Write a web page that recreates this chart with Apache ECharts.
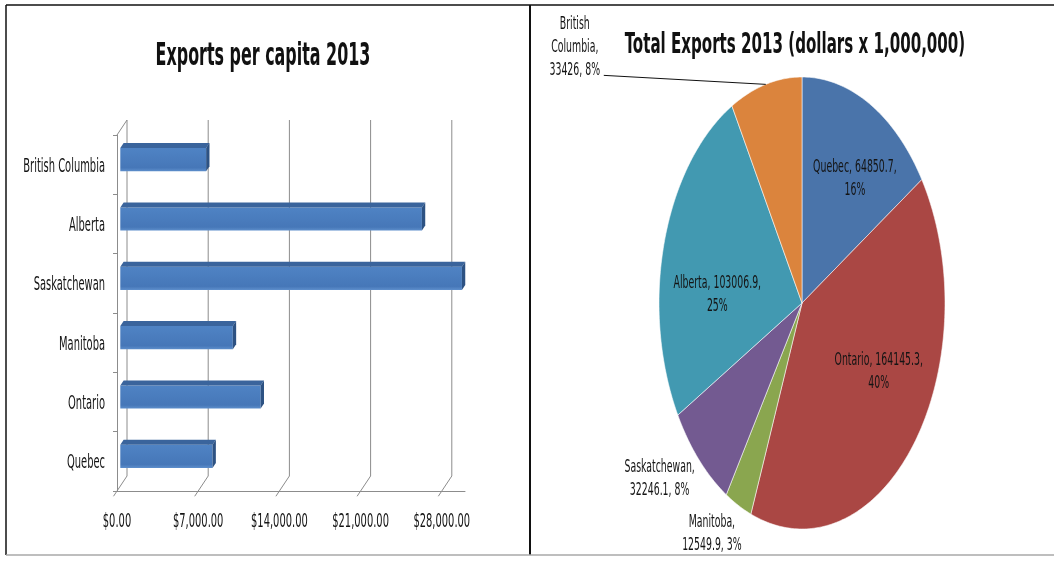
<!DOCTYPE html>
<html>
<head>
<meta charset="utf-8">
<script src="https://cdn.jsdelivr.net/npm/echarts@6/dist/echarts.min.js"></script>
<style>
  html, body { margin: 0; padding: 0; background: #ffffff; }
  #chart { width: 1054px; height: 561px; }
</style>
</head>
<body>
<div id="chart"></div>
<script>
// ---- Exports per capita, 2013 (left panel) ----
const provinces = ['British Columbia', 'Alberta', 'Saskatchewan', 'Manitoba', 'Ontario', 'Quebec'];
const perCapita = [7400, 26000, 29450, 9700, 12100, 7950];
const perCapitaTicks = [0, 7000, 14000, 21000, 28000];

// ---- Total exports 2013, millions of dollars (right panel), clockwise from 12 o'clock ----
const pieNames = ['Quebec', 'Ontario', 'Manitoba', 'Saskatchewan', 'Alberta', 'British Columbia'];
const pieValues = [64850.7, 164145.3, 12549.9, 32246.1, 103006.9, 33426];
const pieColors = ['#4A74AA', '#AA4744', '#8AA64F', '#735A91', '#4299B1', '#DB843D'];

// label placement: radius factor along the slice's mid angle plus a pixel nudge
const pieLabelLayout = [
  { k: 0.6, dx: 12, dy: -5, mode: 'inside' },
  { k: 0.6, dx: 10, dy: -16, mode: 'inside' },
  { k: 1.1, dx: -20, dy: 8, mode: 'outside' },
  { k: 1.1, dx: -29, dy: 4, mode: 'outside' },
  { k: 0.6, dx: -2, dy: 28, mode: 'inside' },
  { k: 1.0, dx: -191, dy: -37, mode: 'outside', splitName: true, leader: [-162, -9] }
];

const FONT = "'Liberation Sans Narrow','DejaVu Sans Condensed','Liberation Sans',sans-serif";
const TEXT = '#141414';
const GRID_LINE = '#8c8c8c';
const DEPTH = [-10, 15];          // offset from back wall to front plane of the 3D box

const total = pieValues.reduce((a, b) => a + b, 0);
const starts = [];
let acc = 0;
pieValues.forEach(v => { starts.push(acc / total * 2 * Math.PI); acc += v; });

function pieLabel(i) {
  const L = pieLabelLayout[i];
  const pct = Math.round(pieValues[i] / total * 100) + '%';
  const name = L.splitName ? pieNames[i].replace(' ', '\n') : pieNames[i];
  return L.mode === 'inside'
    ? name + ', ' + pieValues[i] + ',\n' + pct
    : name + ',\n' + pieValues[i] + ', ' + pct;
}

function money(v) {
  return '$' + v.toLocaleString('en-US', { minimumFractionDigits: 2, maximumFractionDigits: 2 });
}

// tall, condensed lettering: a larger font squeezed horizontally
function squeezedText(x, y, text, align, size, squeeze) {
  return {
    type: 'text', x: x, y: y, scaleX: squeeze, z2: 10,
    style: { text: text, align: align, verticalAlign: 'middle',
             fontFamily: FONT, fontSize: size, fill: TEXT }
  };
}

const chart = echarts.init(document.getElementById('chart'), null, { renderer: 'canvas' });

const option = {
  backgroundColor: '#ffffff',
  animation: false,
  grid: [
    { left: 127, top: 120, width: 348, height: 356 },   // back wall
    { left: 117, top: 135, width: 348, height: 356 },   // front plane (axes)
    { left: 120.3, top: 130, width: 348, height: 356 }, // bar front faces
    { left: 659, top: 77, width: 286, height: 452 }     // elliptical pie
  ],
  xAxis: [
    { gridIndex: 0, type: 'value', min: 0, max: 30000, interval: 7000, show: false },
    {
      gridIndex: 1, type: 'value', min: 0, max: 30000, interval: 7000,
      axisLine: { show: true, lineStyle: { color: GRID_LINE, width: 1 } },
      axisTick: { show: false },
      splitLine: { show: false },
      axisLabel: { show: false }
    },
    { gridIndex: 2, type: 'value', min: 0, max: 30000, show: false },
    { gridIndex: 3, type: 'value', min: -1, max: 1, show: false }
  ],
  yAxis: [
    { gridIndex: 0, type: 'value', min: 0, max: 1, show: false },
    {
      gridIndex: 1, type: 'category', data: provinces, inverse: true,
      axisLine: { show: true, lineStyle: { color: GRID_LINE, width: 1 } },
      axisTick: { show: true, length: 4, lineStyle: { color: GRID_LINE } },
      axisLabel: { show: false },
      splitLine: { show: false }
    },
    { gridIndex: 2, type: 'category', data: provinces, inverse: true, show: false },
    { gridIndex: 3, type: 'value', min: -1, max: 1, show: false }
  ],
  graphic: [
    { type: 'line', shape: { x1: 6, y1: 5, x2: 1054, y2: 5 }, style: { stroke: '#111', lineWidth: 1.5 } },
    { type: 'line', shape: { x1: 6, y1: 5, x2: 6, y2: 555 }, style: { stroke: '#111', lineWidth: 1.5 } },
    { type: 'line', shape: { x1: 530, y1: 5, x2: 530, y2: 555 }, style: { stroke: '#111', lineWidth: 2 } },
    { type: 'line', shape: { x1: 6, y1: 555, x2: 1054, y2: 555 }, style: { stroke: '#a8a8a8', lineWidth: 1.5 } },
    {
      type: 'text', x: 263, y: 57, scaleX: 0.553,
      style: { text: 'Exports per capita 2013', align: 'center', verticalAlign: 'middle',
               fontFamily: FONT, fontWeight: 'bold', fontSize: 32, fill: '#111' }
    },
    {
      type: 'text', x: 795, y: 45, scaleX: 0.578,
      style: { text: 'Total Exports 2013 (dollars x 1,000,000)', align: 'center', verticalAlign: 'middle',
               fontFamily: FONT, fontWeight: 'bold', fontSize: 29, fill: '#111' }
    }
  ],
  series: [
    {
      // back wall gridlines and floor edges of the 3D box
      type: 'custom', xAxisIndex: 0, yAxisIndex: 0, silent: true, clip: false,
      data: perCapitaTicks.map(t => [t]),
      encode: { x: 0 },
      renderItem(params, api) {
        const t = api.value(0);
        const top = api.coord([t, 1]);
        const bot = api.coord([t, 0]);
        const st = { stroke: GRID_LINE, lineWidth: 1 };
        const kids = [
          { type: 'line', shape: { x1: top[0], y1: top[1], x2: bot[0], y2: bot[1] }, style: st },
          { type: 'line', shape: { x1: bot[0], y1: bot[1], x2: bot[0] + DEPTH[0] * 1.35, y2: bot[1] + DEPTH[1] * 1.35 }, style: st }
        ];
        if (t === 0) {
          kids.push({ type: 'line', shape: { x1: top[0], y1: top[1], x2: top[0] + DEPTH[0], y2: top[1] + DEPTH[1] }, style: st });
        }
        return { type: 'group', children: kids };
      }
    },
    {
      // value-axis tick labels under the front edge
      type: 'custom', xAxisIndex: 1, yAxisIndex: 1, silent: true, clip: false,
      data: perCapitaTicks.map(t => [t, 0]),
      encode: { x: 0, y: 1 },
      renderItem(params, api) {
        const t = api.value(0);
        const p = api.coord([t, 0]);
        const bottom = params.coordSys.y + params.coordSys.height;
        return squeezedText(p[0], bottom + 31, money(t), 'center', 19, 0.58);
      }
    },
    {
      // province names beside the front edge
      type: 'custom', xAxisIndex: 1, yAxisIndex: 1, silent: true, clip: false,
      data: provinces.map((p, i) => [0, i]),
      encode: { x: 0, y: 1 },
      renderItem(params, api) {
        const i = api.value(1);
        const p = api.coord([0, i]);
        return squeezedText(params.coordSys.x - 12, p[1] + 2, provinces[i], 'right', 19, 0.58);
      }
    },
    {
      // 3D horizontal bars
      type: 'custom', xAxisIndex: 2, yAxisIndex: 2, clip: false,
      data: provinces.map((p, i) => [i, perCapita[i]]),
      encode: { y: 0, x: 1 },
      renderItem(params, api) {
        const cat = api.value(0);
        const val = api.value(1);
        const p0 = api.coord([0, cat]);
        const p1 = api.coord([val, cat]);
        const band = api.size([0, 1])[1];
        const h = band * 0.39;
        const x0 = p0[0], x1 = p1[0];
        const yT = p0[1] - h / 2, yB = p0[1] + h / 2;
        const dx = -DEPTH[0] / 3, dy = -DEPTH[1] / 3;
        return {
          type: 'group',
          children: [
            {
              type: 'rect', shape: { x: x0, y: yT, width: x1 - x0, height: h },
              style: {
                fill: new echarts.graphic.LinearGradient(0, 0, 0, 1, [
                  { offset: 0, color: '#4F83C4' },
                  { offset: 0.85, color: '#4677B8' },
                  { offset: 1, color: '#5D8ECB' }
                ])
              }
            },
            {
              type: 'polygon',
              shape: { points: [[x0, yT], [x1, yT], [x1 + dx, yT + dy], [x0 + dx, yT + dy]] },
              style: { fill: '#3A649C' }
            },
            {
              type: 'polygon',
              shape: { points: [[x1, yT], [x1 + dx, yT + dy], [x1 + dx, yB + dy], [x1, yB]] },
              style: { fill: '#2D5283' }
            }
          ]
        };
      }
    },
    {
      // elliptical pie with data labels
      type: 'custom', xAxisIndex: 3, yAxisIndex: 3, clip: false,
      data: pieValues.map((v, i) => [0, 0, i]),
      encode: { x: 0, y: 1 },
      renderItem(params, api) {
        const i = api.value(2);
        const a0 = starts[i];
        const a1 = i + 1 < starts.length ? starts[i + 1] : 2 * Math.PI;
        const pts = [api.coord([0, 0])];
        const n = Math.max(2, Math.ceil((a1 - a0) / (Math.PI / 180)));
        for (let s = 0; s <= n; s++) {
          const t = a0 + (a1 - a0) * s / n;
          pts.push(api.coord([Math.sin(t), Math.cos(t)]));
        }
        const mid = (a0 + a1) / 2;
        const L = pieLabelLayout[i];
        const anchor = api.coord([L.k * Math.sin(mid), L.k * Math.cos(mid)]);
        const label = squeezedText(anchor[0] + L.dx, anchor[1] + L.dy, pieLabel(i), 'center', 18, 0.578);
        label.style.lineHeight = 23;
        const kids = [
          { type: 'polygon', shape: { points: pts },
            style: { fill: pieColors[i], stroke: 'rgba(255,255,255,0.55)', lineWidth: 1 } },
          label
        ];
        if (L.leader) {
          kids.push({ type: 'line', z2: 10,
            shape: { x1: anchor[0] + L.leader[0], y1: anchor[1] + L.leader[1], x2: anchor[0], y2: anchor[1] },
            style: { stroke: '#111', lineWidth: 1 } });
        }
        return { type: 'group', children: kids };
      }
    }
  ]
};

chart.setOption(option);
</script>
</body>
</html>
